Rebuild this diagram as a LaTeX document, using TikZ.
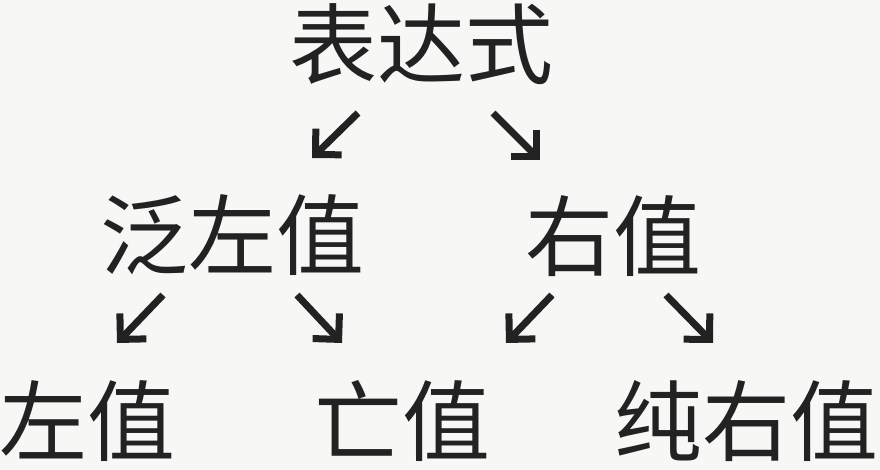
\documentclass[tikz,border=0pt]{standalone}
\usepackage{fontspec}
\newfontfamily\cjk{Noto Sans CJK SC}
\usetikzlibrary{arrows.meta}
\definecolor{bgpaper}{RGB}{247,247,245}
\definecolor{inkdark}{RGB}{34,34,34}

\begin{document}
\begin{tikzpicture}[x=1pt,y=-1pt]
    \tikzset{term/.style={inner sep=0pt,text=inkdark,font=\cjk\fontsize{88pt}{88pt}\selectfont}}
    \tikzset{arr/.style={draw=inkdark,line width=7pt,-{Straight Barb[angle=90:26pt]}}}

    % background and page size
    \fill[bgpaper] (0,0) rectangle (880,470);
    \useasboundingbox (0,0) rectangle (880,470);

    % levels of the tree
    \node[term] (expr) at (421,44) {表达式};
    \node[term] (glvalue) at (232,235) {泛左值};
    \node[term] (rvalue) at (613,236) {右值};
    \node[term] (lvalue) at (87,421) {左值};
    \node[term] (xvalue) at (402,421) {亡值};
    \node[term] (prvalue) at (746,421) {纯右值};

    % arrows between levels
    \draw[arr] ([shift={(-63,69)}]expr.center) -- ([shift={(80,-77)}]glvalue.center);
    \draw[arr] ([shift={(72,69)}]expr.center) -- ([shift={(-73,-76)}]rvalue.center);
    \draw[arr] ([shift={(-69,60)}]glvalue.center) -- ([shift={(30,-78)}]lvalue.center);
    \draw[arr] ([shift={(65,60)}]glvalue.center) -- ([shift={(-60,-78)}]xvalue.center);
    \draw[arr] ([shift={(-61,59)}]rvalue.center) -- ([shift={(104,-78)}]xvalue.center);
    \draw[arr] ([shift={(53,59)}]rvalue.center) -- ([shift={(-33,-78)}]prvalue.center);
\end{tikzpicture}
\end{document}
